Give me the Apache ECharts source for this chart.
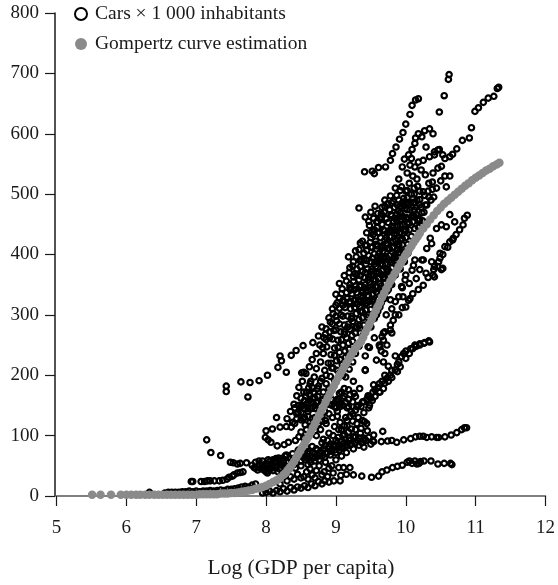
<!DOCTYPE html>
<html><head><meta charset="utf-8">
<style>html,body{margin:0;padding:0;background:#fff}#c{width:558px;height:585px}</style>
<script src="https://cdn.jsdelivr.net/npm/echarts@6/dist/echarts.min.js"></script>
</head><body><div id="c"></div>
<script>
const xTicks=[5,12], yTicks=[0,800];
const legendCars='Cars × 1 000 inhabitants', legendCurve='Gompertz curve estimation';
const axisTitle='Log (GDP per capita)';
const carsFloor=[[6.3,3],[6.33,6],[6.36,3],[6.55,5],[6.6,6],[6.65,6],[6.7,6],[6.75,6],[6.8,7],[6.85,7],[6.9,8],[6.95,7],[7.0,8],[7.05,7],[7.1,8],[7.15,8],[7.2,9],[7.25,8],[7.3,9],[7.35,10],[7.4,9],[7.45,11],[7.5,11],[7.55,12],[7.6,13],[7.65,15],[7.7,16],[7.75,15],[7.8,18],[7.85,20],[7.95,5],[8,6],[8.05,8],[8.1,5],[8.15,9],[8.2,7],[8.25,12],[8.3,8],[8.35,14],[8.4,10],[8.45,15],[8.5,13],[8.55,17],[8.6,14],[8.65,20],[8.7,17],[8.75,24],[8.8,20],[8.84,25],[8.9,23],[8.97,25],[9.06,25]];
const carsLowArm=[[6.93,24],[6.95,24],[7.07,24],[7.12,24],[7.16,25],[7.2,25],[7.26,25],[7.33,25],[7.38,26],[7.44,28],[7.47,31],[7.52,33],[7.54,35],[7.59,38],[7.63,39],[7.67,40],[7.15,93],[7.21,72],[7.35,67],[7.49,56],[7.53,55],[7.59,53],[7.63,54],[7.72,55],[7.8,51],[7.83,47],[7.85,56],[7.88,43],[7.9,52],[7.93,45],[7.95,58],[7.97,48],[8,40],[8,54],[8.03,60],[8.05,45],[8.07,52],[8.1,42],[8.1,60],[8.13,48],[8.15,55],[8.18,63],[8.2,44],[8.22,52],[8.25,58],[8.27,66],[8.3,48],[8.32,56],[8.35,62],[8.38,70],[8.4,52],[8.43,60],[8.45,68],[8.48,74],[8.5,58],[8.53,64],[8.55,72],[8.58,80]];
const carsLowBand=[[8.2,20],[8.3,25],[8.35,32],[8.4,28],[8.45,36],[8.5,30],[8.54,32],[8.58,40],[8.6,28],[8.63,45],[8.66,35],[8.7,30],[8.72,42],[8.76,50],[8.8,35],[8.83,40],[8.85,56],[8.88,32],[8.9,46],[8.94,50],[8.96,38],[9,60],[9.04,47],[9.07,34],[9.11,47],[9.15,36],[9.2,47],[9.25,35],[9.37,33],[9.51,31],[9.61,33],[9.66,40],[9.73,43],[9.81,47],[9.88,49],[9.95,51],[10.02,56],[10.05,58],[10.09,54],[10.13,58],[10.16,53],[10.19,54],[10.21,57],[10.26,58],[10.36,58],[10.46,53],[10.55,54],[10.64,54],[10.66,52]];
const carsHundredLine=[[9.4,93],[9.47,97],[9.54,101],[9.54,90],[9.65,90],[9.67,107],[9.74,91],[9.8,92],[9.87,89],[9.97,93],[10.07,95],[10.14,98],[10.2,99],[10.25,99],[10.3,97],[10.37,98],[10.44,97],[10.47,97],[10.56,98],[10.65,101],[10.73,105],[10.8,110],[10.84,113],[10.87,113]];
const carsBand70=[[8.6,62],[8.66,65],[8.7,70],[8.75,66],[8.78,74],[8.84,83],[8.88,72],[8.92,86],[8.95,78],[9,92],[9.03,97],[9.05,82],[9.08,66],[9.1,100],[9.12,88],[9.15,72],[9.18,106],[9.2,92],[9.22,111],[9.25,78],[9.28,98],[9.3,120],[9.33,84],[9.35,104],[9.38,125],[9.4,81],[9.41,123],[9.43,92],[9.45,108],[9.48,150],[9.5,86],[9.53,91],[9.52,158],[9.56,165],[9.62,172],[9.68,178],[9.75,190],[9.8,196],[9.88,206],[9.92,214],[10,228],[10.05,236],[10.1,244],[10.15,248],[10.2,250],[10.26,253],[10.33,257]];
const carsBand100=[[8.72,100],[8.78,110],[8.82,94],[8.86,120],[8.9,104],[8.95,130],[8.98,115],[9.02,140],[9.06,122],[9.1,150],[9.14,130],[9.18,160],[9.22,140],[9.26,170],[9.3,148],[9.34,178],[9.38,156],[9.46,166],[9.54,184],[9.42,208],[9.58,225],[9.62,186],[9.65,240],[9.68,258],[9.7,200],[9.75,215],[9.78,275],[9.82,291],[9.85,232],[9.9,300],[9.95,312],[10.04,324],[10.1,335],[10.18,342],[10.25,349],[10.32,362],[10.4,375],[10.47,388],[10.53,400],[10.6,412],[10.67,424],[10.72,433]];
const carsSide130=[[8,108],[8.09,111],[8.15,130],[8.2,114],[8.29,115],[8.36,114],[8.41,120],[7.99,97],[8.03,93],[8.07,89],[8.16,83],[8.26,85],[8.32,89],[8.42,92],[8.47,98],[8.41,146],[8.46,138],[8.5,126],[8.52,150],[8.56,118],[8.6,140],[8.62,158],[8.66,128],[8.7,150],[8.74,165],[8.8,158],[8.51,204],[8.54,205],[8.61,179],[8.64,190],[8.68,172]];
const carsUpperSparse=[[7.43,182],[7.43,173],[7.64,189],[7.77,188],[7.74,164],[7.9,191],[8.02,200],[8.17,213],[8.2,232],[8.22,224],[8.29,205],[8.36,233],[8.43,241],[8.53,249],[8.67,254],[8.75,265],[8.8,280],[8.85,268],[8.9,295],[8.95,310],[9.0,334],[9.02,320],[9.05,352],[9.08,335],[9.18,396],[9.28,406],[9.35,419],[9.33,477],[9.42,462],[9.47,455],[9.58,454],[9.12,365],[9.2,378],[9.25,388]];
const carsArcLeft=[[9.41,537],[9.52,538],[9.55,534],[9.61,544],[9.71,545],[9.78,556],[9.81,567],[9.86,578],[9.91,591],[9.96,602],[10,616],[10.06,632],[10.09,647],[10.14,656],[10.18,658]];
const carsArcRight=[[10.48,636],[10.55,663],[10.61,690],[10.62,698],[10.56,559],[10.63,562],[10.67,566],[10.73,575],[10.81,589],[10.91,593],[10.94,610],[10.99,637],[11.04,643],[11.11,652],[11.18,659],[11.26,662],[11.31,675],[11.33,677]];
const carsUpperRight=[[10.46,573],[10.41,565],[10.29,578],[10.34,608],[10.39,600],[10.27,605],[10.23,595],[10.18,600],[10.14,593],[10.13,584],[10.09,574],[10.04,565],[10.08,559],[10.13,545],[10.18,553],[10.25,556],[10.34,562],[10.41,570],[10.48,574],[10.53,565],[10.46,543],[10.51,546],[10.39,535],[10.63,530],[10.56,530],[10.58,512],[9.95,545],[9.98,558],[10.02,535],[10.06,548],[10.1,530],[10.16,525],[10.22,540],[10.28,532],[10.33,518],[10.38,520],[10.44,510],[10.5,522],[9.9,525],[9.94,512],[10,505],[10.05,518],[10.12,510],[10.2,505],[10.27,498],[10.32,505],[10.4,495]];
const carsRightTail=[[10.88,465],[10.84,460],[10.82,449],[10.7,454],[10.63,466],[10.58,446],[10.51,449],[10.44,443],[10.77,441],[10.68,427],[10.63,421],[10.56,413],[10.49,402],[10.35,427],[10.37,418],[10.3,410],[10.25,391],[10.49,394],[10.51,375],[10.41,380],[10.37,388],[10.39,366],[10.29,369],[10.13,391],[10.09,374],[10.41,363],[10,366],[10.2,375],[10.15,360],[10.05,352],[9.95,345],[9.9,330],[9.85,322],[9.8,310],[10.23,391],[10.11,382],[10.53,377],[10.46,380],[9.99,358],[9.94,347],[9.96,330],[10.06,327],[10,313],[9.85,300],[9.78,283],[9.7,272],[9.66,264],[9.8,270],[9.73,250],[9.63,247],[9.46,247],[9.7,236],[9.68,222],[9.42,209]];
const carsCore1=[[8.3,128],[8.35,140],[8.4,152],[8.44,166],[8.47,180],[8.52,190],[8.57,203],[8.62,214],[8.66,226],[8.72,236],[8.77,250],[8.83,262],[8.86,277],[8.92,288],[8.96,302],[9,316],[9.05,328],[9.09,343],[9.15,356],[9.19,370],[9.24,381],[9.29,396],[9.33,408],[9.38,422],[9.44,436],[9.48,448],[9.54,460]];
const carsCore2=[[8.38,122],[8.44,136],[8.5,148],[8.55,158],[8.58,172],[8.63,186],[8.69,197],[8.72,211],[8.78,222],[8.82,236],[8.87,247],[8.91,262],[8.97,274],[9.01,290],[9.07,300],[9.1,316],[9.16,327],[9.21,341],[9.25,355],[9.3,366],[9.35,380],[9.4,392],[9.44,407],[9.49,420],[9.53,433],[9.59,445],[9.63,459],[9.69,470],[9.74,484]];
const carsCore3=[[8.55,130],[8.6,145],[8.65,155],[8.69,170],[8.75,182],[8.8,195],[8.84,208],[8.89,220],[8.93,234],[8.98,245],[9.03,258],[9.07,272],[9.12,283],[9.17,298],[9.21,310],[9.26,324],[9.3,337],[9.36,349],[9.41,362],[9.45,376],[9.5,388],[9.55,401],[9.59,414],[9.64,428],[9.7,439],[9.75,453],[9.79,466],[9.84,478],[9.9,490]];
const carsCore4=[[8.7,145],[8.76,140],[8.82,172],[8.86,186],[8.92,198],[8.96,212],[9.01,224],[9.05,238],[9.1,250],[9.15,262],[9.2,276],[9.24,289],[9.29,302],[9.34,314],[9.38,328],[9.43,340],[9.48,354],[9.53,366],[9.57,380],[9.62,392],[9.67,405],[9.72,418],[9.77,430],[9.82,444],[9.87,456],[9.92,469],[9.97,481],[10.02,494],[10.08,500]];
const carsCore5=[[8.85,150],[8.9,165],[8.95,178],[9,190],[9.05,204],[9.09,218],[9.14,230],[9.19,243],[9.24,256],[9.28,270],[9.33,282],[9.38,295],[9.43,308],[9.47,322],[9.52,334],[9.57,347],[9.61,360],[9.66,373],[9.71,385],[9.76,398],[9.81,411],[9.86,423],[9.91,436],[9.96,449],[10.01,461],[10.06,474],[10.11,486],[10.16,490],[10.22,478]];
const carsCore6=[[9,158],[9.05,170],[9.14,197],[9.19,210],[9.24,222],[9.28,236],[9.33,248],[9.38,262],[9.42,275],[9.47,287],[9.52,300],[9.56,314],[9.61,326],[9.66,339],[9.7,352],[9.75,365],[9.8,378],[9.85,390],[9.9,403],[9.95,416],[10,428],[10.05,441],[10.1,454],[10.15,466],[10.2,458],[10.26,470],[10.3,482],[10.36,490]];
const carsCore7=[[8.95,260],[9,275],[9.05,285],[9.1,298],[9.13,312],[9.2,322],[9.23,335],[9.28,348],[9.33,358],[9.38,372],[9.43,384],[9.47,398],[9.52,412],[9.57,422],[9.62,436],[9.66,450],[9.72,460],[9.77,474],[9.82,488],[9.87,498],[9.92,506],[9.85,510],[9.78,497],[9.7,490],[9.66,478],[9.6,468],[9.56,480],[9.5,470]];
const carsCore8=[[9.12,268],[9.17,280],[9.22,294],[9.27,312],[9.31,318],[9.36,332],[9.41,345],[9.46,358],[9.5,372],[9.55,384],[9.6,397],[9.65,410],[9.7,424],[9.74,436],[9.8,447],[9.84,460],[9.89,472],[9.94,484],[9.99,476],[10.04,486],[10.08,462],[10.12,474],[10.18,445],[10.24,456]];
const carsCore9=[[9.3,280],[9.35,306],[9.4,322],[9.45,332],[9.5,346],[9.54,358],[9.59,370],[9.64,384],[9.69,396],[9.74,410],[9.79,420],[9.84,434],[9.88,446],[9.93,458],[9.97,440],[10.02,452],[9.92,424],[9.96,404],[9.88,408],[9.84,396],[9.79,388],[9.73,376],[9.68,362],[9.63,352],[9.58,338],[9.53,326]];
const carsCore10=[[9.4,268],[9.46,300],[9.5,280],[9.55,294],[9.6,306],[9.65,320],[9.7,328],[9.75,342],[9.8,350],[9.85,366],[9.92,376],[9.98,388],[10.03,402],[10.08,414],[9.72,300],[9.78,325],[9.68,270],[9.62,250],[9.55,262],[9.48,246],[9.42,232],[9.25,190],[9.18,176],[9.12,165],[9.06,148],[9.02,132]];
const carsFillA=[[8.81,246],[8.86,259],[8.91,272],[8.95,285],[9,298],[9.05,311],[9.1,324],[9.15,337],[9.2,350],[9.25,363],[9.3,376],[9.35,389],[9.4,402],[9.44,415],[9.5,428],[9.55,441],[9.6,454],[9.65,467],[9.7,480]];
const carsFillB=[[8.93,220],[8.98,233],[9.03,246],[9.08,259],[9.12,272],[9.18,285],[9.23,298],[9.28,311],[9.32,324],[9.38,337],[9.42,350],[9.47,363],[9.52,376],[9.58,389],[9.62,402],[9.67,415],[9.72,428],[9.78,441],[9.82,454],[9.87,467],[9.92,480],[9.97,493],[10.02,506]];
const carsFillC=[[9.13,240],[9.18,253],[9.23,266],[9.28,279],[9.33,292],[9.38,305],[9.42,318],[9.47,331],[9.53,344],[9.57,357],[9.62,370],[9.67,383],[9.72,396],[9.77,409],[9.82,422],[9.87,435],[9.92,448],[9.97,461],[10.02,474],[10.07,487],[10.12,500],[10.17,513]];
const carsFillD=[[9.35,270],[9.4,283],[9.45,296],[9.5,309],[9.55,322],[9.6,335],[9.65,348],[9.7,361],[9.75,374],[9.8,387],[9.85,400],[9.9,413],[9.95,426],[10,439],[10.05,452],[10.1,465],[10.15,478],[10.2,491],[10.25,504]];
const carsFillE=[[9.58,300],[9.63,313],[9.68,326],[9.73,339],[9.78,352],[9.83,365],[9.88,378],[9.93,391],[9.98,404],[10.03,417],[10.08,430],[10.13,443],[10.18,456],[10.23,469],[10.28,482],[10.33,495],[10.38,508]];
const carsFillLow=[[8.02,38],[8.06,58],[8.1,50],[8.14,62],[8.17,40],[8.2,60],[8.24,50],[8.26,40],[8.29,68],[8.33,44],[8.36,54],[8.39,62],[8.42,46],[8.46,76],[8.5,50],[8.52,70],[8.56,60],[8.6,52],[8.6,74],[8.64,56],[8.66,82],[8.7,58],[8.72,78],[8.76,60],[8.8,88],[8.84,64],[8.88,92],[8.92,68],[8.96,100],[9,72],[9.04,110],[9.08,80],[9.12,102],[9.16,116],[9.2,84],[9.24,124],[9.28,110],[9.32,130],[9.36,112],[9.4,138],[9.44,120],[9.47,146],[9.5,162],[9.53,172],[9.56,176],[9.6,180],[9.63,172],[9.66,190],[9.7,187],[9.74,196],[9.78,200],[9.8,208],[9.85,209],[9.88,218],[9.9,222],[9.94,231],[9.97,236],[10,240],[10.07,244],[10.13,250],[10.2,252],[10.27,254],[10.34,255]];
const carsFillMid=[[8.46,150],[8.5,162],[8.54,172],[8.58,152],[8.62,168],[8.66,180],[8.7,162],[8.74,178],[8.78,190],[8.82,160],[8.86,200],[8.9,178],[8.94,212],[8.98,192],[9.02,208],[9.06,226],[9.1,200],[9.14,216],[9.18,234],[8.5,106],[8.54,96],[8.58,110],[8.64,116],[8.7,108],[8.74,128],[8.8,124],[8.84,140],[8.9,136],[8.94,150],[9,146],[9.04,160],[9.08,172],[9.12,178],[9.16,146],[9.2,168],[9.24,156],[9.28,165]];
const carsClusterC=[[8.44,128],[8.47,150],[8.5,138],[8.53,128],[8.55,145],[8.57,165],[8.6,132],[8.6,155],[8.63,122],[8.65,145],[8.67,162],[8.7,130],[8.72,155],[8.75,120],[8.77,148],[8.8,132],[8.83,150],[8.85,125],[8.9,152],[8.94,160],[8.98,148],[9.02,160],[9.06,152],[9.1,162],[9.14,155],[9.18,148]];
const carsCoreDense=[[9.12,322],[9.2,320],[9.28,325],[9.35,322],[9.44,319],[9.52,323],[9.2,345],[9.27,342],[9.34,347],[9.42,344],[9.5,341],[9.58,346],[9.64,343],[9.27,368],[9.35,365],[9.42,370],[9.5,366],[9.58,369],[9.66,366],[9.74,371],[9.36,392],[9.44,390],[9.52,394],[9.6,390],[9.68,393],[9.76,390],[9.84,394],[9.42,415],[9.5,412],[9.58,417],[9.66,413],[9.74,416],[9.82,412],[9.9,417],[9.52,438],[9.6,436],[9.68,441],[9.76,437],[9.84,440],[9.92,436],[10,441],[9.65,462],[9.72,459],[9.8,464],[9.88,460],[9.96,463],[10.04,459],[10.12,464],[9.8,485],[9.88,482],[9.96,487],[10.04,483],[10.12,486],[10.2,482]];
const carsBandThick=[[8.56,66],[8.6,70],[8.63,60],[8.67,72],[8.7,64],[8.73,76],[8.76,70],[8.8,66],[8.82,78],[8.86,70],[8.9,82],[8.93,74],[8.96,84],[8.98,76],[9.02,88],[9.05,76],[9.08,90],[9.1,80],[9.13,94],[9.16,84],[9.19,96],[9.22,86],[9.25,98],[9.28,88],[9.31,92],[9.34,96],[9.37,88],[9.4,96],[7.85,46],[7.9,58],[7.94,50],[7.98,42],[8.02,50],[8.08,46],[8.12,56],[8.16,50],[8.2,54],[8.24,62],[9.08,110],[9.12,116],[9.16,125],[9.2,132],[9.24,136],[9.28,142],[9.32,150],[9.36,148],[9.4,156],[9.44,160],[9.48,164]];
const gompertz=[[5.51,2],[5.63,2],[5.78,2],[5.92,2],[6,2],[6.07,2],[6.14,2],[6.2,2],[6.27,2],[6.33,2],[6.4,2],[6.46,2],[6.52,2],[6.58,2],[6.64,2],[6.7,2],[6.76,2],[6.82,2],[6.88,2],[6.94,2],[7,2],[7.05,3],[7.1,3],[7.15,3],[7.2,3],[7.25,3],[7.3,3],[7.35,4],[7.4,4],[7.45,4],[7.5,5],[7.55,5],[7.6,6],[7.65,7],[7.7,8],[7.75,9],[7.8,10],[7.85,12],[7.9,13],[7.95,15],[8,17],[8.05,20],[8.1,23],[8.15,26],[8.2,30],[8.25,35],[8.28,38],[8.31,43],[8.34,47],[8.37,52],[8.4,57],[8.43,63],[8.46,69],[8.49,75],[8.52,81],[8.55,87],[8.58,93],[8.61,99],[8.64,106],[8.67,113],[8.7,120],[8.73,127],[8.76,134],[8.79,141],[8.82,148],[8.85,155],[8.88,162],[8.91,169],[8.94,176],[8.97,182],[9,189],[9.03,196],[9.06,202],[9.09,208],[9.12,214],[9.15,220],[9.18,226],[9.21,232],[9.24,238],[9.27,243],[9.3,248],[9.33,252],[9.36,256],[9.39,263],[9.42,271],[9.45,278],[9.48,285],[9.51,292],[9.54,300],[9.57,307],[9.6,314],[9.63,321],[9.66,329],[9.69,336],[9.72,343],[9.75,350],[9.78,356],[9.81,362],[9.84,368],[9.87,374],[9.9,380],[9.93,386],[9.96,392],[9.99,398],[10.02,403],[10.05,409],[10.08,414],[10.11,420],[10.14,425],[10.17,430],[10.2,435],[10.25,443],[10.3,450],[10.35,458],[10.4,465],[10.45,472],[10.5,478],[10.55,484],[10.6,489],[10.65,494],[10.7,499],[10.75,504],[10.8,509],[10.85,514],[10.9,518],[10.95,523],[11,527],[11.05,531],[11.1,535],[11.15,539],[11.2,542],[11.25,546],[11.3,549],[11.34,552]];
const cars=[].concat(carsFloor,carsLowArm,carsLowBand,carsHundredLine,carsBand70,carsBand100,carsSide130,carsUpperSparse,carsArcLeft,carsArcRight,carsUpperRight,carsRightTail,carsCore1,carsCore2,carsCore3,carsCore4,carsCore5,carsCore6,carsCore7,carsCore8,carsCore9,carsCore10,carsFillA,carsFillB,carsFillC,carsFillD,carsFillE,carsFillLow,carsFillMid,carsClusterC,carsCoreDense,carsBandThick);
const font='"Liberation Serif",serif', ink='#1a1a1a';
const chart=echarts.init(document.getElementById('c'),null,{renderer:'canvas'});
chart.setOption({
 animation:false,backgroundColor:'#fff',
 grid:{left:56.5,right:10.3,top:13,bottom:89},
 legend:{orient:'vertical',left:69,top:-2,itemGap:8,itemWidth:12,itemHeight:12,
  textStyle:{fontFamily:font,fontSize:19.5,lineHeight:22,color:ink,padding:[0,0,0,3]},
  data:[legendCars,legendCurve]},
 xAxis:{type:'value',min:xTicks[0],max:xTicks[1],interval:1,offset:1.5,
  name:axisTitle,nameLocation:'middle',nameGap:60,
  nameTextStyle:{fontFamily:font,fontSize:21.5,color:ink},
  axisLine:{lineStyle:{color:'#555',width:1.5}},axisTick:{length:10,lineStyle:{color:ink,width:1.2}},
  axisLabel:{margin:21,fontFamily:font,fontSize:19,color:ink},splitLine:{show:false}},
 yAxis:{type:'value',min:yTicks[0],max:yTicks[1],interval:100,offset:1.5,
  axisLine:{lineStyle:{color:ink,width:1.5}},axisTick:{length:10,lineStyle:{color:ink,width:1.2}},
  axisLabel:{margin:16,fontFamily:font,fontSize:19,color:ink},splitLine:{show:false}},
 series:[
  {name:legendCars,type:'scatter',data:cars,symbol:'circle',symbolSize:5.4,clip:false,
   itemStyle:{color:'rgba(255,255,255,0)',borderColor:'#000',borderWidth:2.2,opacity:1}},
  {name:legendCurve,type:'scatter',data:gompertz,symbol:'circle',symbolSize:8.5,clip:false,
   itemStyle:{color:'#8a8a8a',opacity:1}}
 ]
});
</script></body></html>
